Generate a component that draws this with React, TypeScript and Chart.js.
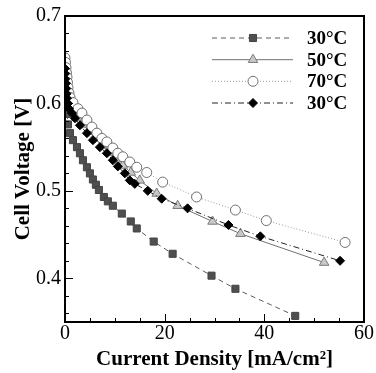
import React, { useEffect, useRef } from 'react';
import { Chart, registerables } from 'chart.js';

Chart.register(...registerables);

// ---- data ----
const seriesLabels = ['30°C', '50°C', '70°C', '30°C'];

const sq30X = [0.2, 0.4, 0.6, 1.0, 1.6, 2.4, 3.0, 3.6, 4.4, 5.0, 5.6, 6.2, 6.8, 7.8, 8.6, 9.6, 11.4, 13.2, 14.4, 17.8, 21.6, 29.4, 34.2, 46.2];
const sq30Y = [0.598, 0.588, 0.576, 0.566, 0.558, 0.550, 0.543, 0.535, 0.527, 0.520, 0.513, 0.507, 0.501, 0.493, 0.488, 0.483, 0.474, 0.465, 0.457, 0.442, 0.428, 0.403, 0.388, 0.357];

const tri50X = [0, 0.1, 0.2, 0.3, 0.5, 0.8, 1.2, 1.8, 2.6, 3.6, 4.8, 6.0, 7.4, 8.8, 10.2, 11.6, 13.2, 15.0, 18.4, 22.6, 29.6, 35.2, 52.0];
const tri50Y = [0.645, 0.636, 0.627, 0.619, 0.611, 0.604, 0.598, 0.591, 0.584, 0.576, 0.568, 0.560, 0.552, 0.544, 0.536, 0.529, 0.521, 0.512, 0.497, 0.483, 0.465, 0.451, 0.418];

const cir70X = [0, 0.1, 0.2, 0.3, 0.4, 0.5, 0.6, 0.8, 1.0, 1.6, 2.6, 3.4, 4.4, 5.4, 6.4, 7.4, 8.4, 9.6, 10.6, 11.6, 13.0, 14.4, 16.4, 19.6, 26.4, 34.2, 40.4, 56.2];
const cir70Y = [0.652, 0.647, 0.641, 0.635, 0.630, 0.624, 0.618, 0.612, 0.607, 0.601, 0.594, 0.589, 0.581, 0.573, 0.566, 0.560, 0.556, 0.549, 0.543, 0.539, 0.533, 0.527, 0.521, 0.510, 0.493, 0.478, 0.466, 0.441];

const dia30X = [0, 0.02, 0.05, 0.2, 0.25, 0.3, 0.4, 0.6, 0.8, 1.4, 2.0, 3.0, 4.4, 5.6, 7.0, 8.4, 9.6, 10.6, 12.0, 13.0, 14.0, 16.6, 19.4, 24.6, 32.8, 39.2, 55.2];
const dia30Y = [0.640, 0.634, 0.628, 0.623, 0.617, 0.611, 0.606, 0.600, 0.594, 0.589, 0.583, 0.575, 0.566, 0.558, 0.550, 0.543, 0.535, 0.528, 0.520, 0.512, 0.508, 0.500, 0.491, 0.480, 0.461, 0.448, 0.420];

const xTicks = [0, 20, 40, 60];
const yTicks = [0.4, 0.5, 0.6, 0.7];
const xMin = 0, xMax = 60, xMinorStep = 5;
const yMin = 0.35, yMax = 0.7, yMinorStep = 0.02;

const xTitle = 'Current Density [mA/cm²]';
const yTitle = 'Cell Voltage [V]';

const SERIF = '"Liberation Serif", "Times New Roman", serif';

const pts = (xs: number[], ys: number[]) => xs.map((x, i) => ({ x, y: ys[i] }));

function drawMarker(ctx: CanvasRenderingContext2D, style: string, x: number, y: number, r: number, fill: string, stroke: string) {
  ctx.save();
  ctx.setLineDash([]);
  ctx.lineWidth = 1;
  ctx.fillStyle = fill;
  ctx.strokeStyle = stroke;
  ctx.beginPath();
  if (style === 'rect') {
    const s = Math.SQRT1_2 * r;
    ctx.rect(x - s, y - s, 2 * s, 2 * s);
  } else if (style === 'rectRot') {
    ctx.moveTo(x - r, y); ctx.lineTo(x, y - r); ctx.lineTo(x + r, y); ctx.lineTo(x, y + r); ctx.closePath();
  } else if (style === 'triangle') {
    ctx.moveTo(x, y - r);
    ctx.lineTo(x + 0.866 * r, y + 0.5 * r);
    ctx.lineTo(x - 0.866 * r, y + 0.5 * r);
    ctx.closePath();
  } else {
    ctx.arc(x, y, r, 0, Math.PI * 2);
  }
  ctx.fill();
  ctx.stroke();
  ctx.restore();
}

const framePlugin = {
  id: 'frameTicks',
  afterDatasetsDraw(chart: any) {
    const { ctx, chartArea: a, scales } = chart;
    const xs = scales.x, ys = scales.y;
    ctx.save();
    ctx.strokeStyle = '#000';
    ctx.lineWidth = 1;
    ctx.setLineDash([]);
    // x ticks (inward from bottom)
    for (let v = xMin; v <= xMax + 1e-9; v += xMinorStep) {
      const px = Math.round(xs.getPixelForValue(v)) + 0.5;
      const major = xTicks.some(t => Math.abs(t - v) < 1e-9);
      const len = major ? 8 : 4;
      ctx.beginPath();
      ctx.moveTo(px, a.bottom);
      ctx.lineTo(px, a.bottom - len);
      ctx.stroke();
    }
    // y ticks (inward from left)
    for (let k = 0; ; k++) {
      const v = 0.36 + k * yMinorStep;
      if (v > yMax + 1e-9) break;
      const py = Math.round(ys.getPixelForValue(v)) + 0.5;
      const major = yTicks.some(t => Math.abs(t - v) < 1e-6);
      const len = major ? 8 : 4;
      ctx.beginPath();
      ctx.moveTo(a.left, py);
      ctx.lineTo(a.left + len, py);
      ctx.stroke();
    }
    // frame
    ctx.lineWidth = 2;
    ctx.strokeRect(a.left, a.top, a.right - a.left, a.bottom - a.top);
    ctx.restore();
  },
};

const legendPlugin = {
  id: 'insideLegend',
  afterDraw(chart: any) {
    const { ctx } = chart;
    const rows = [38, 59.7, 81.3, 103];
    const x0 = 212, x1 = 293, xm = 253, xt = 307;
    chart.data.datasets.forEach((ds: any, i: number) => {
      const y = rows[i];
      ctx.save();
      ctx.strokeStyle = ds.borderColor;
      ctx.lineWidth = ds.borderWidth;
      ctx.setLineDash(ds.borderDash || []);
      ctx.beginPath();
      ctx.moveTo(x0, y);
      ctx.lineTo(x1, y);
      ctx.stroke();
      ctx.restore();
      drawMarker(ctx, ds.pointStyle, xm, y, ds.pointRadius, ds.pointBackgroundColor, ds.pointBorderColor);
      ctx.save();
      ctx.fillStyle = '#000';
      ctx.font = `bold 19px ${SERIF}`;
      ctx.textAlign = 'left';
      ctx.textBaseline = 'middle';
      ctx.fillText(seriesLabels[i], xt, y + 1);
      ctx.restore();
    });
  },
};

export default function App() {
  const ref = useRef<HTMLCanvasElement>(null);

  useEffect(() => {
    if (!ref.current) return;
    const chart = new Chart(ref.current, {
      type: 'scatter',
      data: {
        datasets: [
          {
            label: seriesLabels[0],
            data: pts(sq30X, sq30Y),
            showLine: true,
            borderColor: '#5a5a5a',
            borderWidth: 1,
            borderDash: [5, 4],
            pointStyle: 'rect',
            pointRadius: 5,
            pointBackgroundColor: '#4f4f4f',
            pointBorderColor: '#444444',
            pointBorderWidth: 1,
            order: 3,
          },
          {
            label: seriesLabels[1],
            data: pts(tri50X, tri50Y),
            showLine: true,
            borderColor: '#707070',
            borderWidth: 1,
            borderDash: [],
            pointStyle: 'triangle',
            pointRadius: 5.5,
            pointBackgroundColor: '#c8c8c8',
            pointBorderColor: '#7a7a7a',
            pointBorderWidth: 1,
            order: 2,
          },
          {
            label: seriesLabels[2],
            data: pts(cir70X, cir70Y),
            showLine: true,
            borderColor: '#9a9a9a',
            borderWidth: 1,
            borderDash: [1, 2],
            pointStyle: 'circle',
            pointRadius: 5,
            pointBackgroundColor: '#ffffff',
            pointBorderColor: '#6e6e6e',
            pointBorderWidth: 1,
            order: 1,
          },
          {
            label: seriesLabels[3],
            data: pts(dia30X, dia30Y),
            showLine: true,
            borderColor: '#222222',
            borderWidth: 1,
            borderDash: [6, 3, 1, 3],
            pointStyle: 'rectRot',
            pointRadius: 4.5,
            pointBackgroundColor: '#000000',
            pointBorderColor: '#000000',
            pointBorderWidth: 1,
            order: 0,
          },
        ],
      },
      options: {
        animation: false,
        responsive: false,
        layout: { padding: { top: 15, right: 12, left: 0, bottom: 0 } },
        plugins: { legend: { display: false }, tooltip: { enabled: false } },
        scales: {
          x: {
            type: 'linear',
            min: xMin,
            max: xMax,
            afterBuildTicks: (s: any) => { s.ticks = xTicks.map(v => ({ value: v })); },
            afterFit: (s: any) => { s.height = 51; },
            grid: { display: false, drawTicks: false },
            border: { display: false },
            ticks: {
              color: '#000',
              padding: 0,
              maxRotation: 0,
              font: { family: SERIF, size: 20 },
              callback: (v: any) => String(v),
            },
            title: {
              display: true,
              text: xTitle,
              color: '#000',
              font: { family: SERIF, size: 21, weight: 'bold' },
              padding: { top: 0, bottom: 1 },
            },
          },
          y: {
            type: 'linear',
            min: yMin,
            max: yMax,
            afterBuildTicks: (s: any) => { s.ticks = yTicks.map(v => ({ value: v })); },
            afterFit: (s: any) => { s.width = 65; },
            grid: { display: false, drawTicks: false },
            border: { display: false },
            ticks: {
              color: '#000',
              padding: 4,
              font: { family: SERIF, size: 20 },
              callback: (v: any) => Number(v).toFixed(1),
            },
            title: {
              display: true,
              text: yTitle,
              color: '#000',
              font: { family: SERIF, size: 21, weight: 'bold' },
              padding: { top: 11, bottom: 0 },
            },
          },
        },
      } as any,
      plugins: [framePlugin, legendPlugin],
    });
    return () => chart.destroy();
  }, []);

  return (
    <div style={{ position: 'absolute', left: 0, top: 0, width: 376, height: 373, background: '#fff' }}>
      <canvas ref={ref} width={376} height={373} style={{ display: 'block' }} />
    </div>
  );
}
